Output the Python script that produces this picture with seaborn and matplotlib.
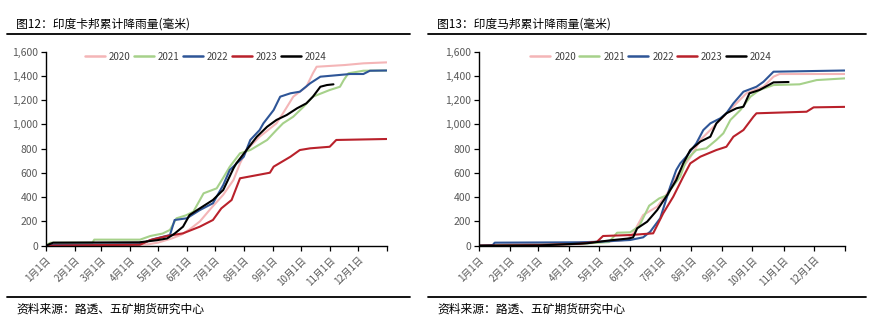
import numpy as np
import pandas as pd
import matplotlib
matplotlib.use("Agg")
import matplotlib.pyplot as plt
import seaborn as sns
from matplotlib.lines import Line2D

# ---------------- data (day of year, cumulative rainfall mm) ----------------
years = ["2020", "2021", "2022", "2023", "2024"]
colors = ["#F4B5B7", "#A6D18A", "#2E5597", "#B9212B", "#000000"]

month_ticks = [0, 31, 59, 90, 120, 151, 181, 212, 243, 273, 304, 334, 365]
month_labels = ["1月1日", "2月1日", "3月1日", "4月1日", "5月1日", "6月1日",
                "7月1日", "8月1日", "9月1日", "10月1日", "11月1日", "12月1日", ""]

# Karnataka (left)
ka_2020_day = [0, 30, 60, 90, 110, 120, 135, 145, 155, 165, 176, 190, 201, 208, 215, 229, 247, 254, 265, 279, 286, 290, 320, 340, 365]
ka_2020_val = [0, 2, 4, 6, 12, 25, 60, 90, 140, 200, 300, 420, 542, 679, 789, 899, 1009, 1092, 1229, 1311, 1422, 1476, 1490, 1504, 1512]
ka_2021_day = [0, 5, 50, 52, 101, 112, 125, 133, 140, 150, 158, 169, 183, 190, 197, 208, 219, 237, 247, 254, 265, 276, 286, 304, 315, 319, 324, 340, 365]
ka_2021_val = [0, 25, 25, 50, 50, 80, 100, 130, 226, 250, 280, 432, 473, 560, 651, 762, 789, 872, 954, 1009, 1064, 1146, 1229, 1284, 1311, 1366, 1422, 1443, 1445]
ka_2022_day = [0, 10, 100, 115, 133, 138, 151, 165, 179, 190, 197, 212, 219, 229, 233, 244, 251, 262, 272, 283, 294, 326, 340, 347, 365]
ka_2022_val = [0, 8, 12, 53, 88, 212, 226, 294, 350, 500, 624, 734, 872, 954, 1009, 1119, 1229, 1257, 1270, 1339, 1394, 1416, 1416, 1443, 1445]
ka_2023_day = [0, 30, 101, 112, 130, 147, 165, 179, 188, 199, 208, 222, 240, 244, 262, 272, 283, 304, 311, 365]
ka_2023_val = [0, 3, 8, 47, 80, 102, 157, 212, 308, 377, 556, 576, 602, 652, 734, 789, 803, 816, 872, 880]
ka_2024_day = [0, 8, 100, 119, 130, 138, 147, 154, 165, 179, 188, 190, 201, 204, 215, 226, 237, 247, 258, 269, 279, 286, 294, 301, 308]
ka_2024_val = [0, 25, 28, 45, 60, 100, 157, 253, 308, 377, 445, 459, 638, 679, 789, 899, 981, 1037, 1078, 1133, 1174, 1229, 1311, 1325, 1331]

# Maharashtra (right)
mh_2020_day = [0, 30, 60, 100, 130, 148, 154, 164, 178, 188, 197, 211, 221, 231, 244, 257, 267, 284, 294, 300, 365]
mh_2020_val = [0, 10, 15, 25, 35, 50, 102, 253, 322, 432, 569, 730, 872, 954, 1064, 1174, 1257, 1311, 1394, 1416, 1416]
mh_2021_day = [0, 40, 100, 130, 138, 151, 160, 170, 180, 189, 191, 201, 207, 217, 227, 237, 244, 251, 261, 271, 280, 294, 320, 337, 365]
mh_2021_val = [0, 5, 15, 30, 107, 110, 160, 330, 390, 420, 459, 569, 707, 789, 803, 872, 927, 1037, 1119, 1229, 1284, 1325, 1331, 1366, 1380]
mh_2022_day = [0, 14, 16, 100, 121, 151, 164, 171, 181, 191, 197, 201, 207, 217, 224, 231, 241, 247, 254, 264, 277, 284, 294, 365]
mh_2022_val = [0, 5, 25, 28, 33, 47, 69, 115, 226, 487, 624, 679, 734, 844, 954, 1009, 1051, 1092, 1174, 1270, 1311, 1352, 1435, 1445]
mh_2023_day = [0, 60, 100, 118, 124, 151, 174, 184, 194, 204, 211, 221, 237, 247, 254, 264, 274, 277, 327, 334, 365]
mh_2023_val = [0, 5, 15, 33, 80, 88, 102, 267, 404, 569, 679, 734, 789, 816, 899, 954, 1064, 1092, 1105, 1141, 1145]
mh_2024_day = [0, 60, 108, 131, 150, 154, 158, 168, 178, 188, 197, 204, 211, 221, 231, 237, 247, 257, 264, 270, 280, 294, 309]
mh_2024_val = [0, 2, 20, 44, 60, 69, 143, 198, 294, 418, 542, 679, 789, 858, 899, 1009, 1092, 1133, 1146, 1257, 1284, 1347, 1350]

ka_series = [(ka_2020_day, ka_2020_val), (ka_2021_day, ka_2021_val), (ka_2022_day, ka_2022_val),
             (ka_2023_day, ka_2023_val), (ka_2024_day, ka_2024_val)]
mh_series = [(mh_2020_day, mh_2020_val), (mh_2021_day, mh_2021_val), (mh_2022_day, mh_2022_val),
             (mh_2023_day, mh_2023_val), (mh_2024_day, mh_2024_val)]

titles = ["图12：印度卡邦累计降雨量(毫米)", "图13：印度马邦累计降雨量(毫米)"]
source = "资料来源：路透、五矿期货研究中心"

# ---------------- style ----------------
sns.set_theme(style="ticks")
plt.rcParams["font.family"] = ["Noto Sans CJK SC", "DejaVu Sans"]
plt.rcParams["axes.unicode_minus"] = False

W, H = 876, 331
fig = plt.figure(figsize=(W / 100, H / 100), dpi=100)

def fx(px):
    return px / W

def fy(py):
    return 1 - py / H

palette = dict(zip(years, colors))

def build_df(series):
    frames = []
    for yr, (d, v) in zip(years, series):
        frames.append(pd.DataFrame({"day": d, "val": v, "year": yr}))
    return pd.concat(frames, ignore_index=True)

axes_px = [(45.7, 386.7), (478.7, 844.7)]
top_px, bot_px = 51.7, 245.7
leg_cx = [0.47, 0.471]

for i, (series, (xl, xr)) in enumerate(zip([ka_series, mh_series], axes_px)):
    ax = fig.add_axes([fx(xl), fy(bot_px), fx(xr - xl), (bot_px - top_px) / H])
    df = build_df(series)
    sns.lineplot(data=df, x="day", y="val", hue="year", palette=palette,
                 hue_order=years, estimator=None, sort=False, lw=1.5, ax=ax,
                 legend=False)
    ax.set_xlim(0, 365)
    ax.set_ylim(0, 1600)
    ax.set_xticks(month_ticks)
    ax.set_xticklabels(month_labels, rotation=45, ha="right", rotation_mode="anchor",
                       fontsize=7, color="#595959")
    yt = np.arange(0, 1601, 200)
    ax.set_yticks(yt)
    ax.set_yticklabels([f"{v:,.0f}" for v in yt], fontsize=7.5, color="#595959")
    ax.tick_params(axis="both", length=3.5, width=0.9, color="black", pad=2)
    ax.tick_params(axis="x", pad=3)
    ax.set_xlabel("")
    ax.set_ylabel("")
    sns.despine(ax=ax)
    for s in ["left", "bottom"]:
        ax.spines[s].set_color("black")
        ax.spines[s].set_linewidth(1.0)
    ax.patch.set_alpha(0)
    handles = [Line2D([0], [0], color=c, lw=1.8) for c in colors]
    leg = ax.legend(handles, years, loc="center", bbox_to_anchor=(leg_cx[i], 0.975),
                    ncol=5, frameon=False, fontsize=7, handlelength=2.0,
                    handletextpad=0.45, columnspacing=0.35, borderaxespad=0)
    for t in leg.get_texts():
        t.set_color("#404040")

# titles and rules
fig.text(fx(16), fy(24), titles[0], fontsize=8.5, va="center", ha="left", color="black")
fig.text(fx(437), fy(24), titles[1], fontsize=8.5, va="center", ha="left", color="black")
fig.add_artist(Line2D([fx(7), fx(410)], [fy(33.7), fy(33.7)], color="black", lw=1.3))
fig.add_artist(Line2D([fx(428), fx(866)], [fy(33.7), fy(33.7)], color="black", lw=1.3))
fig.add_artist(Line2D([fx(7), fx(410)], [fy(297.3), fy(297.3)], color="black", lw=1.3))
fig.add_artist(Line2D([fx(428), fx(866)], [fy(297.3), fy(297.3)], color="black", lw=1.3))
fig.text(fx(16), fy(309.5), source, fontsize=8.5, va="center", ha="left", color="black")
fig.text(fx(437), fy(309.5), source, fontsize=8.5, va="center", ha="left", color="black")

fig.savefig("out.png", dpi=100)
